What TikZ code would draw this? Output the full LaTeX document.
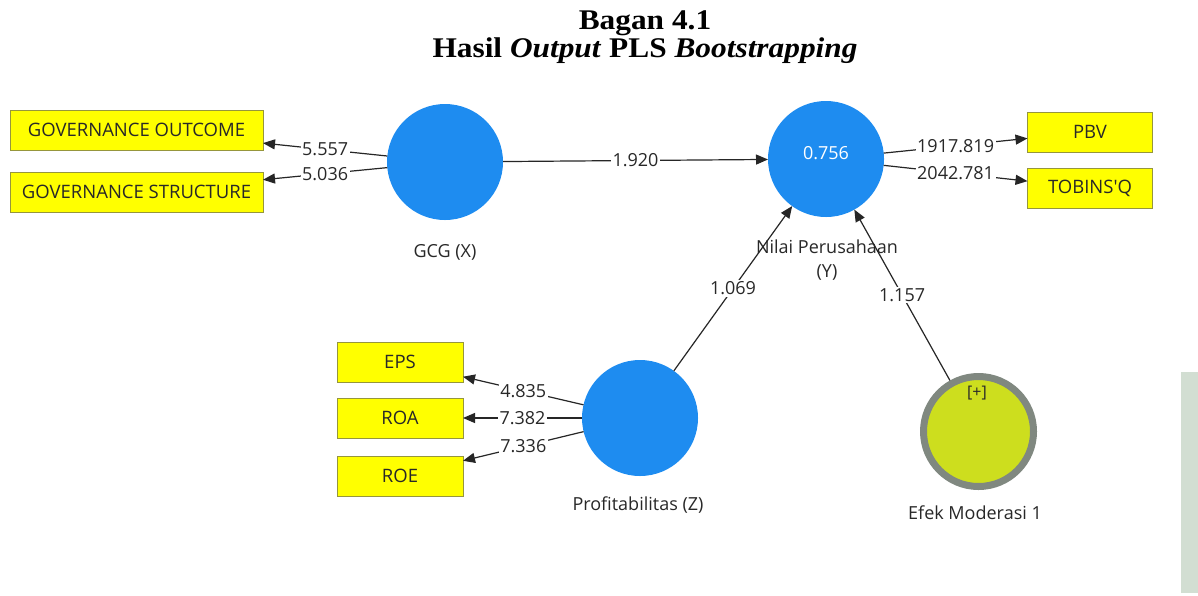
\documentclass[tikz,border=0pt]{standalone}
\usepackage{fontspec}
\setmainfont{Liberation Serif}
\newfontfamily\uifont{Open Sans}
\usetikzlibrary{arrows.meta}
\definecolor{lvblue}{RGB}{30,140,240}
\definecolor{indyel}{RGB}{255,255,0}
\definecolor{indborder}{RGB}{150,150,60}
\definecolor{modfill}{RGB}{205,222,30}
\definecolor{modring}{RGB}{128,136,128}
\definecolor{wmark}{RGB}{210,222,210}
\definecolor{txt}{RGB}{40,40,40}
\begin{document}
\begin{tikzpicture}[x=1pt,y=-1pt,
  ind/.style={draw=indborder, line width=1pt, fill=indyel, minimum height=40pt, inner sep=0pt, outer sep=0pt, font=\uifont\fontsize{18.5}{22}\selectfont, text=txt},
  lv/.style={circle, fill=lvblue, minimum size=116pt, inner sep=0pt, outer sep=0pt},
  arr/.style={-{Triangle[length=12pt,width=10pt]}, line width=1.2pt, black!85},
  lbl/.style={fill=white, inner sep=1.5pt, font=\uifont\fontsize{18}{22}\selectfont, text=txt},
  lvname/.style={font=\uifont\fontsize{18}{24}\selectfont, text=txt, align=center, inner sep=0pt}
]
\useasboundingbox (0,0) rectangle (1198,595);
\fill[white] (0,0) rectangle (1198,595);
% watermark strip
\fill[wmark] (1181,372) rectangle (1198,593);
% title
\node[anchor=base, font=\bfseries\fontsize{28.5}{30}\selectfont, xscale=1.1, transform shape] (t1) at (645,29) {Bagan 4.1};
\node[anchor=base, font=\bfseries\fontsize{28.5}{30}\selectfont, xscale=1.1, transform shape] (t2) at (645,57) {Hasil \textit{Output} PLS \textit{Bootstrapping}};
% indicators
\node[ind, minimum width=253pt] (go) at (136.5,130) {GOVERNANCE OUTCOME};
\node[ind, minimum width=253pt] (gs) at (136.5,192) {GOVERNANCE STRUCTURE};
\node[ind, minimum width=125pt] (pbv) at (1090,132) {PBV};
\node[ind, minimum width=125pt] (tq) at (1090,188) {TOBINS'Q};
\node[ind, minimum width=126pt] (eps) at (400,362) {EPS};
\node[ind, minimum width=126pt] (roa) at (400,418) {ROA};
\node[ind, minimum width=126pt] (roe) at (400,476) {ROE};
% latent variables
\node[lv] (gcg) at (445,162) {};
\node[lv] (nilai) at (826,159) {};
\node[lv] (prof) at (640,418) {};
\node[circle, fill=modfill, draw=modring, line width=7pt, minimum size=110pt, inner sep=0pt, outer sep=3.5pt] (efek) at (978.5,431.5) {};
\node[font=\uifont\fontsize{18}{22}\selectfont, text=white] (r2) at (826,153) {0.756};
\node[font=\uifont\fontsize{16}{18}\selectfont, text=txt] (plus) at (977,393) {[+]};
% names
\node[lvname] (ngcg) at (445,252) {GCG (X)};
\node[lvname] (nnilai) at (827,260) {Nilai Perusahaan\\(Y)};
\node[lvname] (nprof) at (638,505) {Profitabilitas (Z)};
\node[lvname] (nefek) at (975,513) {Efek Moderasi 1};
% paths
\draw[arr] (gcg) -- node[lbl]{5.557} (go);
\draw[arr] (gcg) -- node[lbl]{5.036} (gs);
\draw[arr] (gcg) -- node[lbl]{1.920} (nilai);
\draw[arr] (nilai) -- node[lbl]{1917.819} (pbv);
\draw[arr] (nilai) -- node[lbl]{2042.781} (tq);
\draw[arr] (prof) -- node[lbl]{4.835} (eps);
\draw[arr] (prof) -- node[lbl]{7.382} (roa);
\draw[arr] (prof) -- node[lbl]{7.336} (roe);
\draw[arr] (prof) -- node[lbl]{1.069} (nilai);
\draw[arr] (efek) -- node[lbl]{1.157} (nilai);
\end{tikzpicture}
\end{document}
